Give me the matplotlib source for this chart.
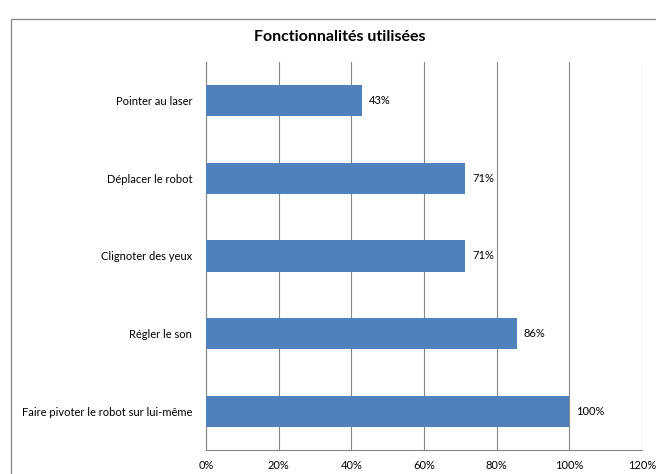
import matplotlib.pyplot as plt
from matplotlib.patches import Rectangle

plt.rcParams['font.family'] = ['Lato', 'DejaVu Sans']

# Données (du bas vers le haut)
categories = ['Faire pivoter le robot sur lui-même', 'Régler le son',
              'Clignoter des yeux', 'Déplacer le robot', 'Pointer au laser']
values = [100.0, 85.7, 71.4, 71.4, 42.9]
labels = ['100%', '86%', '71%', '71%', '43%']
ticks = [0, 20, 40, 60, 80, 100, 120]

W, H = 656, 474
fig = plt.figure(figsize=(W / 100, H / 100), dpi=100)

# cadre du graphique (coupé à droite et en bas)
fig.patches.append(Rectangle((11 / W, -0.1), 1.0, 1 - 19 / H + 0.1,
                             transform=fig.transFigure, fill=False,
                             edgecolor='#868686', linewidth=0.9))

ax = fig.add_axes([206 / W, 1 - 450 / H, (642 - 206) / W, (450 - 62) / H])
y = range(len(categories))
ax.barh(y, values, height=0.4, color='#4F81BD', zorder=3)
for yi, v, lab in zip(y, values, labels):
    ax.text(v + 1.8, yi, lab, va='center', ha='left', fontsize=8, color='#000000')

ax.set_xlim(0, 120)
ax.set_ylim(-0.5, len(categories) - 0.5)
ax.set_xticks(ticks)
ax.set_xticklabels([f'{t}%' for t in ticks], fontsize=8)
ax.set_yticks(list(y))
ax.set_yticklabels(categories, fontsize=8)
ax.tick_params(length=0)
ax.tick_params(axis='x', pad=7.5)
ax.tick_params(axis='y', pad=10)
ax.grid(axis='x', color='#868686', linewidth=0.8, zorder=0)
for s in ['top', 'right']:
    ax.spines[s].set_visible(False)
for s in ['left', 'bottom']:
    ax.spines[s].set_color('#868686')
    ax.spines[s].set_linewidth(0.8)

fig.text(340 / W, 1 - 37 / H, 'Fonctionnalités utilisées',
         ha='center', va='center', fontsize=11.5, fontweight='bold')

fig.savefig('out.png', dpi=100)
